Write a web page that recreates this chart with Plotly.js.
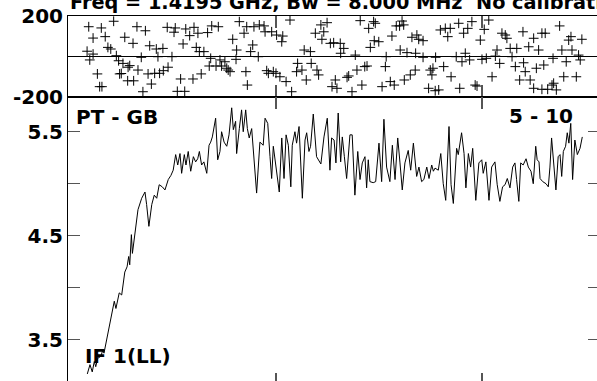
<!DOCTYPE html>
<html>
<head>
<meta charset="utf-8">
<script src="https://cdn.plot.ly/plotly-3.0.1.min.js"></script>
<style>
html,body{margin:0;padding:0;overflow:hidden;background:#fff;width:597px;height:381px;}
#chart{width:605px;height:392px;}
</style>
</head>
<body>
<div id="chart"></div>
<script>
// Amplitude spectrum (channel, amplitude)
const ampCh = [
8.4,9.7,10.8,11.8,12.5,13.4,15.0,15.9,16.5,17.5,
19.4,21.5,22.3,23.9,25.1,26.6,27.7,28.5,29.0,29.8,
30.3,31.4,33.0,34.8,36.4,37.2,38.3,39.7,40.9,42.1,
43.3,44.8,46.1,47.7,49.0,50.1,51.3,52.3,53.4,54.2,
55.5,56.3,57.4,58.6,59.9,61.0,62.0,62.8,63.9,65.0,
66.4,67.5,68.3,69.1,70.7,71.7,72.8,73.6,74.8,76.1,
77.2,78.5,79.3,80.4,80.9,82.2,83.3,84.1,85.3,86.1,
87.0,88.2,89.3,90.6,92.2,93.8,94.7,96.0,97.1,97.9,
98.7,100.3,101.6,102.8,103.9,104.9,106.0,107.2,107.9,109.2,
110.0,111.2,112.8,114.1,114.9,116.0,116.8,118.1,119.7,121.8,
123.3,124.9,126.2,127.0,128.2,129.1,130.2,131.4,132.2,133.2,
134.3,135.9,137.0,138.3,139.7,140.8,141.9,143.2,144.0,144.8,
145.6,147.2,148.4,150.0,151.3,152.4,153.7,155.3,156.5,157.8,
159.1,160.2,161.3,162.6,164.2,165.4,166.7,168.3,169.4,170.7,
171.8,173.2,174.3,175.6,176.4,177.2,178.8,180.0,181.2,182.4,
184.0,185.0,186.1,187.7,188.5,190.1,191.3,192.2,193.4,194.5,
195.5,197.0,198.5,199.9,200.6,201.9,203.4,204.7,206.3,207.4,
208.7,210.0,211.2,212.3,213.6,214.9,216.0,216.8,217.9,218.8,
220.0,221.4,222.5,223.8,224.9,226.1,226.8,227.7,228.2,229.5,
231.1,232.2,233.0,233.8,235.0,235.9,237.0,237.9,238.7,239.5,
240.6,241.4,242.2,243.1,244.0,245.1,246.3,247.6,248.7
];
const ampVal = [
3.17,3.26,3.19,3.29,3.24,3.32,3.34,3.40,3.37,3.47,
3.63,3.87,3.80,3.95,3.93,4.15,4.20,4.30,4.22,4.51,
4.33,4.49,4.75,4.86,4.92,4.80,4.59,4.80,4.89,4.86,
4.99,4.97,4.94,5.04,5.08,5.13,5.28,5.18,5.29,5.10,
5.28,5.18,5.31,5.12,5.26,5.21,5.24,5.31,5.18,5.21,
5.10,5.37,5.40,5.45,5.63,5.23,5.31,5.50,5.40,5.36,
5.47,5.73,5.52,5.60,5.29,5.53,5.71,5.50,5.71,5.53,
5.44,5.53,5.24,4.91,5.40,5.37,5.63,5.58,5.26,5.05,
5.36,5.12,4.92,5.44,5.05,5.47,5.37,4.97,5.37,5.50,
5.39,5.55,4.86,5.42,5.49,5.31,5.36,5.67,5.26,5.19,
5.45,5.63,5.13,5.44,5.42,5.20,5.68,5.21,5.45,5.26,
5.05,5.47,5.47,4.89,5.31,5.04,5.20,5.26,4.96,5.23,
5.02,5.01,5.02,5.39,5.02,5.62,5.16,5.02,5.37,5.04,
5.44,5.20,4.94,5.20,5.32,5.13,5.39,5.07,5.16,5.02,
5.04,5.16,5.05,5.18,5.12,5.15,5.13,5.29,5.00,4.84,
5.55,4.99,4.81,5.34,5.28,5.49,5.29,4.96,5.29,5.16,
5.34,4.84,5.20,5.23,5.10,5.21,4.84,5.16,5.21,4.99,
4.83,4.97,4.99,5.05,4.96,5.16,5.20,5.04,4.83,5.20,
5.18,5.24,5.16,5.12,5.00,5.36,5.23,5.21,5.05,5.02,
5.00,4.97,5.16,5.44,5.13,4.94,5.26,5.28,5.07,5.31,
5.36,5.49,5.39,5.58,5.04,5.42,5.28,5.34,5.45
];
// Phase (channel, degrees)
const phaseCh = [
9.1,15.2,21.2,11.2,17.1,8.3,9.6,11.2,13.3,14.4,
15.5,18.4,19.8,22.5,23.6,24.1,24.9,25.7,26.6,28.2,
29.0,28.0,30.9,30.6,32.5,36.6,33.0,34.6,35.4,37.9,
38.7,39.5,41.1,41.9,42.7,45.1,43.5,45.3,47.2,47.6,
49.5,51.1,50.5,54.9,53.7,52.1,55.7,56.2,58.1,59.7,
60.2,61.3,62.1,63.7,62.8,65.0,66.8,68.8,72.0,68.3,
67.6,70.9,73.6,76.1,76.8,77.7,72.8,75.2,79.0,80.6,
80.9,82.2,84.5,85.8,85.4,86.1,88.7,87.7,89.3,91.4,
91.9,94.2,94.7,95.5,96.3,98.7,100.0,101.9,97.9,100.3,
103.3,102.8,104.9,106.8,107.6,110.0,110.5,112.6,114.7,113.7,
116.7,117.1,119.9,120.7,119.1,122.3,123.2,121.8,124.8,126.4,
128.0,131.2,131.4,132.9,127.2,129.6,128.8,134.5,135.3,136.9,
139.3,138.5,141.7,140.9,145.0,147.4,148.2,145.8,147.7,149.9,
143.1,144.2,151.5,153.1,153.5,155.5,157.4,156.3,158.4,160.3,
160.0,162.0,161.2,163.6,162.3,165.2,167.6,166.0,168.4,169.3,
171.4,167.8,171.4,174.1,175.7,177.3,179.0,174.9,176.2,177.5,
181.4,179.8,182.2,184.6,183.4,188.7,185.0,187.5,190.3,189.2,
191.1,193.1,191.9,194.0,195.1,196.7,197.6,199.2,200.0,201.1,
202.1,203.3,204.9,206.5,207.3,208.6,209.7,211.3,212.1,213.7,
214.6,216.2,216.9,218.3,220.2,219.9,221.0,222.7,223.4,226.4,
225.1,227.5,229.1,230.7,230.0,225.1,229.1,231.9,234.0,234.8,
236.1,234.5,237.7,238.8,239.7,240.9,242.1,243.2,243.7,245.8,
246.9,247.7,248.5
];
const phaseVal = [
147,141,174,91,98,26,-17,12,-86,-149,
-149,45,37,4,-21,-86,-84,-34,95,-53,
-45,-120,-120,65,147,127,-67,-4,-174,-86,
53,-136,-83,37,-1,40,-83,-70,144,-53,
-1,141,120,62,-111,-172,-172,136,103,-111,
144,45,115,-86,24,24,118,151,147,-9,
-47,-47,-47,-58,-67,-75,-17,-26,85,-14,
32,172,115,147,-75,-141,57,24,147,-1,
156,151,122,-70,-83,-75,-83,-100,122,106,
101,73,-124,180,-174,-75,-34,-67,-116,32,
24,-34,-67,-91,115,85,122,156,167,65,
68,65,16,40,-149,-157,-116,-103,-96,-174,
-67,7,-141,177,139,172,164,45,78,73,
-50,-47,-149,-50,-1,-124,-141,101,151,32,
151,156,175,19,-116,-91,-67,95,106,85,
78,16,-4,-157,-91,-169,-165,-67,-58,-4,
-50,131,139,139,98,164,-100,-1,-26,-157,
115,139,16,-17,172,-141,-146,81,-14,134,
-9,180,-100,2,32,-34,115,106,90,40,
-1,-50,40,-116,-31,122,-75,48,-116,-58,
90,32,115,115,-42,-157,-162,-162,-141,-132,
-165,-9,151,32,-100,-26,81,98,32,-100,
7,-17,85
];
const xTicks = [100, 200];
const phaseTicks = [-200, 200];
const phaseTickText = ['-200', '200'];
const ampTicks = [3.5, 4.0, 4.5, 5.0, 5.5];
const ampTickText = ['3.5', '', '4.5', '', '5.5'];
const titleText = 'Freq = 1.4195 GHz, Bw = 8.000 MHz  No calibration';
const baselineLabel = 'PT - GB';
const timeLabel = '5 - 10';
const ifLabel = 'IF 1(LL)';

const FONT = {family: 'DejaVu Sans', size: 20, color: '#000', weight: 700};
const TITLEFONT = {family: 'DejaVu Sans', size: 19.3, color: '#000', weight: 700};
const xr = [-0.97, 257.3];

const traces = [
  {x: phaseCh, y: phaseVal, xaxis: 'x', yaxis: 'y', mode: 'markers', type: 'scatter',
   marker: {symbol: 'cross-thin', size: 7, color: '#000', line: {color: '#000', width: 1}},
   cliponaxis: false, hoverinfo: 'none'},
  {x: ampCh, y: ampVal, xaxis: 'x2', yaxis: 'y2', mode: 'lines', type: 'scatter',
   line: {color: '#000', width: 1}, hoverinfo: 'none'}
];

const axCommon = {showgrid: false, showline: true, linecolor: '#000', linewidth: 1,
  mirror: 'ticks', ticks: 'inside', ticklen: 12, tickcolor: '#555', tickwidth: 1.5};

const layout = {
  width: 605, height: 392,
  margin: {l: 68, r: 5, t: 16, b: 7},
  paper_bgcolor: '#fff', plot_bgcolor: '#fff',
  showlegend: false,
  font: FONT,
  xaxis: Object.assign({}, axCommon, {range: xr, anchor: 'y', tickvals: xTicks, showticklabels: false, zeroline: false}),
  yaxis: Object.assign({}, axCommon, {domain: [0.7805, 1], range: [-200, 200], anchor: 'x',
    tickvals: phaseTicks, ticktext: phaseTickText, tickfont: FONT,
    zeroline: true, zerolinecolor: '#000', zerolinewidth: 1.5}),
  xaxis2: Object.assign({}, axCommon, {range: xr, anchor: 'y2', tickvals: xTicks, showticklabels: false, zeroline: false}),
  yaxis2: Object.assign({}, axCommon, {domain: [0, 0.7805], range: [3.064, 5.834], anchor: 'x2',
    tickvals: ampTicks, ticktext: ampTickText, tickfont: FONT, zeroline: false}),
  annotations: [
    {text: titleText, xref: 'paper', yref: 'paper', x: 0, y: 1, xanchor: 'left', yanchor: 'bottom',
     showarrow: false, font: TITLEFONT, yshift: 0},
    {text: baselineLabel, xref: 'paper', yref: 'paper', x: 0.0113, y: 0.727, xanchor: 'left', yanchor: 'middle',
     showarrow: false, font: FONT},
    {text: timeLabel, xref: 'paper', yref: 'paper', x: 0.953, y: 0.730, xanchor: 'right', yanchor: 'middle',
     showarrow: false, font: FONT},
    {text: ifLabel, xref: 'paper', yref: 'paper', x: 0.0282, y: 0.0786, xanchor: 'left', yanchor: 'middle',
     showarrow: false, font: FONT}
  ]
};

Plotly.newPlot('chart', traces, layout, {staticPlot: true, displayModeBar: false});
</script>
</body>
</html>
